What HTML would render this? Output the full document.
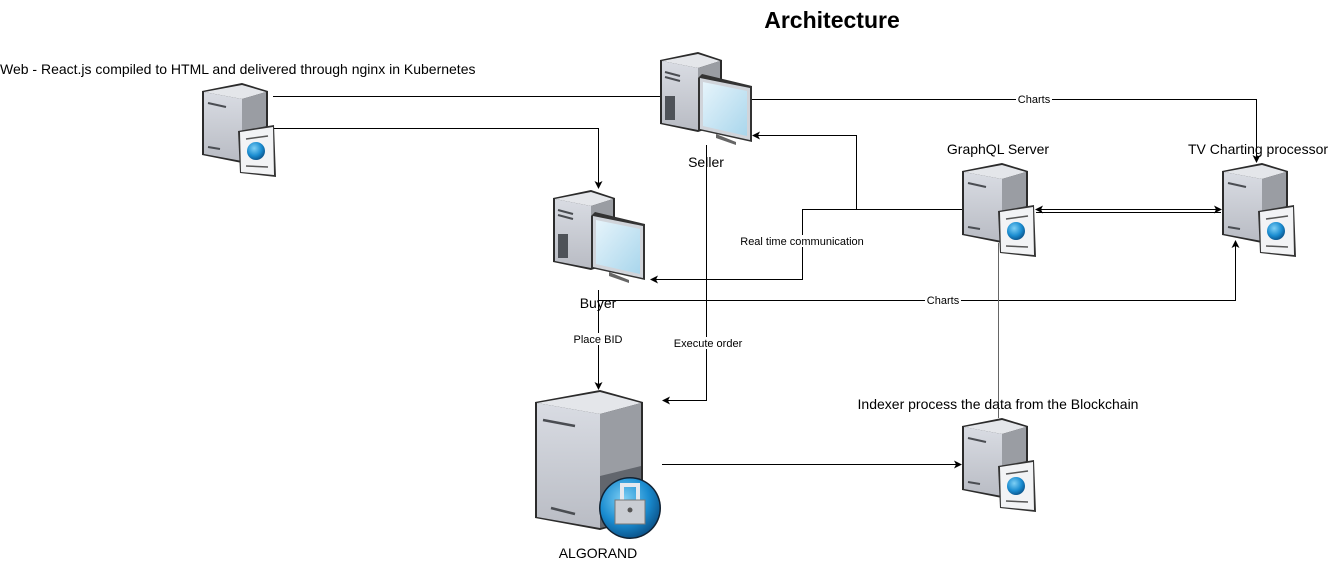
<!DOCTYPE html>
<html><head><meta charset="utf-8"><style>
html,body{margin:0;padding:0;background:#fff;}
svg{display:block;font-family:"Liberation Sans",Arial,sans-serif;}
</style></head><body>
<svg width="1328" height="563" viewBox="0 0 1328 563" xmlns="http://www.w3.org/2000/svg">
<defs>
  <marker id="ar" markerWidth="8" markerHeight="8" refX="7" refY="4" orient="auto" markerUnits="userSpaceOnUse">
    <path d="M0,0 L8,4 L0,8 L2,4 z" fill="#000"/>
  </marker>
  <marker id="as" markerWidth="8" markerHeight="8" refX="1" refY="4" orient="auto" markerUnits="userSpaceOnUse">
    <path d="M8,0 L0,4 L8,8 L6,4 z" fill="#000"/>
  </marker>
  <linearGradient id="gw" x1="0" y1="0" x2="0" y2="1"><stop offset="0" stop-color="#d9dce3"/><stop offset="1" stop-color="#b9bcc4"/></linearGradient>
  <linearGradient id="mon" x1="0" y1="0" x2="1" y2="1"><stop offset="0" stop-color="#e6f4fb"/><stop offset="1" stop-color="#a9d6ec"/></linearGradient>
  <radialGradient id="globe" cx="0.4" cy="0.35" r="0.7"><stop offset="0" stop-color="#7fd0f5"/><stop offset="0.6" stop-color="#1a8cd0"/><stop offset="1" stop-color="#0a4f85"/></radialGradient>
  <g id="tower">
    <path d="M0,8 L40,0 L66,8 L66,72 L40,80 L0,72 Z" fill="#2b2b2b"/>
    <path d="M2,9 L40,2 L64,9 L40,16 Z" fill="#e4e6ea"/>
    <path d="M2,9 L40,16 L40,78 L2,71 Z" fill="url(#gw)"/>
    <path d="M40,16 L64,9 L64,71 L40,78 Z" fill="#9a9da3"/>
    <path d="M40,50 L64,43 L64,71 L40,78 Z" fill="#62666d"/>
    <line x1="6" y1="20" x2="24" y2="24" stroke="#4a4d52" stroke-width="2"/>
    <line x1="6" y1="64" x2="18" y2="66" stroke="#4a4d52" stroke-width="2"/>
  </g>
  <g id="webserver">
    <use href="#tower"/>
    <path d="M36,48 L72,42 L74,94 L38,90 Z" fill="#333"/>
    <path d="M38,49 L71,44 L72,92 L39,89 Z" fill="#f2f3f5"/>
    <line x1="44" y1="56" x2="66" y2="53" stroke="#555" stroke-width="1.5"/>
    <line x1="44" y1="83" x2="66" y2="84" stroke="#555" stroke-width="1.5"/>
    <circle cx="54" cy="68" r="9" fill="url(#globe)"/>
  </g>
  <g id="pc">
    <path d="M0,8 L38,0 L62,8 L62,72 L38,80 L0,72 Z" fill="#2b2b2b"/>
    <path d="M2,9 L38,2 L60,9 L38,16 Z" fill="#e4e6ea"/>
    <path d="M2,9 L38,16 L38,78 L2,71 Z" fill="url(#gw)"/>
    <path d="M38,16 L60,9 L60,71 L38,78 Z" fill="#9a9da3"/>
    <rect x="5" y="44" width="10" height="24" fill="#4e5258"/>
    <line x1="5" y1="20" x2="20" y2="24" stroke="#4a4d52" stroke-width="2"/>
    <line x1="5" y1="25" x2="20" y2="29" stroke="#4a4d52" stroke-width="2"/>
    <path d="M38,26 L42,22 L92,34 L92,90 L38,78 Z" fill="#333"/>
    <path d="M40,26 L90,36 L90,88 L40,77 Z" fill="#d0d4da"/>
    <path d="M43,30 L87,39 L87,84 L43,74 Z" fill="url(#mon)"/>
    <path d="M56,82 L76,90 L76,93 L56,86 Z" fill="#666"/>
  </g>
</defs>

<text x="832" y="28" font-size="23" font-weight="bold" text-anchor="middle">Architecture</text>

<g stroke="#000" stroke-width="1" fill="none">
  <path d="M273,96.5 H660"/>
  <path d="M273,128.5 H598.5 V188" marker-end="url(#ar)"/>
  <path d="M752,99.5 H1256.5 V162" marker-end="url(#ar)"/>
  <path d="M962,209.5 H856.5 V135.5 H753" marker-end="url(#ar)"/>
  <path d="M856,209.5 H802.5 V279.5 H651" marker-end="url(#ar)"/>
  <path d="M1036,209.5 H1221" marker-end="url(#ar)" marker-start="url(#as)"/>
  <path d="M1036,212.5 H1221"/>
  <path d="M598,300.5 H1235.5 V241" marker-end="url(#ar)"/>
  <path d="M598.5,290 V389" marker-end="url(#ar)"/>
  <path d="M706.5,145 V400.5 H663" marker-end="url(#ar)"/>
  <path d="M662,464.5 H961" marker-end="url(#ar)"/>
  <path d="M998.5,243 V418" stroke="#666"/>
</g>

<use href="#webserver" x="202" y="83"/>
<use href="#pc" x="660" y="52"/>
<use href="#pc" x="553" y="190"/>
<use href="#webserver" x="962" y="163"/>
<use href="#webserver" x="1222" y="163"/>
<use href="#webserver" x="962" y="418"/>

<g transform="translate(535,390)">
  <path d="M0,12 L65,0 L108,12 L108,128 L65,140 L0,128 Z" fill="#2b2b2b"/>
  <path d="M2,13 L65,2 L106,13 L65,24 Z" fill="#e4e6ea"/>
  <path d="M2,13 L65,24 L65,138 L2,127 Z" fill="url(#gw)"/>
  <path d="M65,24 L106,13 L106,127 L65,138 Z" fill="#9a9da3"/>
  <path d="M65,86 L106,76 L106,127 L65,138 Z" fill="#62666d"/>
  <line x1="8" y1="30" x2="40" y2="36" stroke="#4a4d52" stroke-width="2.5"/>
  <line x1="16" y1="118" x2="40" y2="124" stroke="#4a4d52" stroke-width="2.5"/>
  <circle cx="95" cy="118" r="31" fill="#123"/>
  <circle cx="95" cy="118" r="29.5" fill="url(#globe)"/>
  <path d="M87,112 V95 H103 V112" fill="none" stroke="#e4e8ee" stroke-width="4"/>
  <rect x="80" y="110" width="30" height="24" fill="#c9cdd3" stroke="#777"/>
  <circle cx="95" cy="120" r="2.5" fill="#555"/>
</g>

<g font-size="14" fill="#000">
  <text x="0" y="74">Web - React.js compiled to HTML and delivered through nginx in Kubernetes</text>
  <text x="706" y="167" text-anchor="middle">Seller</text>
  <text x="598" y="308" text-anchor="middle">Buyer</text>
  <text x="998" y="154" text-anchor="middle">GraphQL Server</text>
  <text x="1258" y="154" text-anchor="middle">TV Charting processor</text>
  <text x="998" y="409" text-anchor="middle">Indexer process the data from the Blockchain</text>
  <text x="598" y="558" text-anchor="middle">ALGORAND</text>
</g>
<g font-size="11" text-anchor="middle">
  <rect x="1016" y="93" width="36" height="12" fill="#fff"/>
  <text x="1034" y="103">Charts</text>
  <rect x="925" y="294" width="36" height="12" fill="#fff"/>
  <text x="943" y="304">Charts</text>
  <rect x="740" y="235" width="125" height="12" fill="#fff"/>
  <text x="802" y="245">Real time communication</text>
  <rect x="572" y="333" width="52" height="12" fill="#fff"/>
  <text x="598" y="343">Place BID</text>
  <rect x="672" y="337" width="72" height="12" fill="#fff"/>
  <text x="708" y="347">Execute order</text>
</g>
</svg>
</body></html>
